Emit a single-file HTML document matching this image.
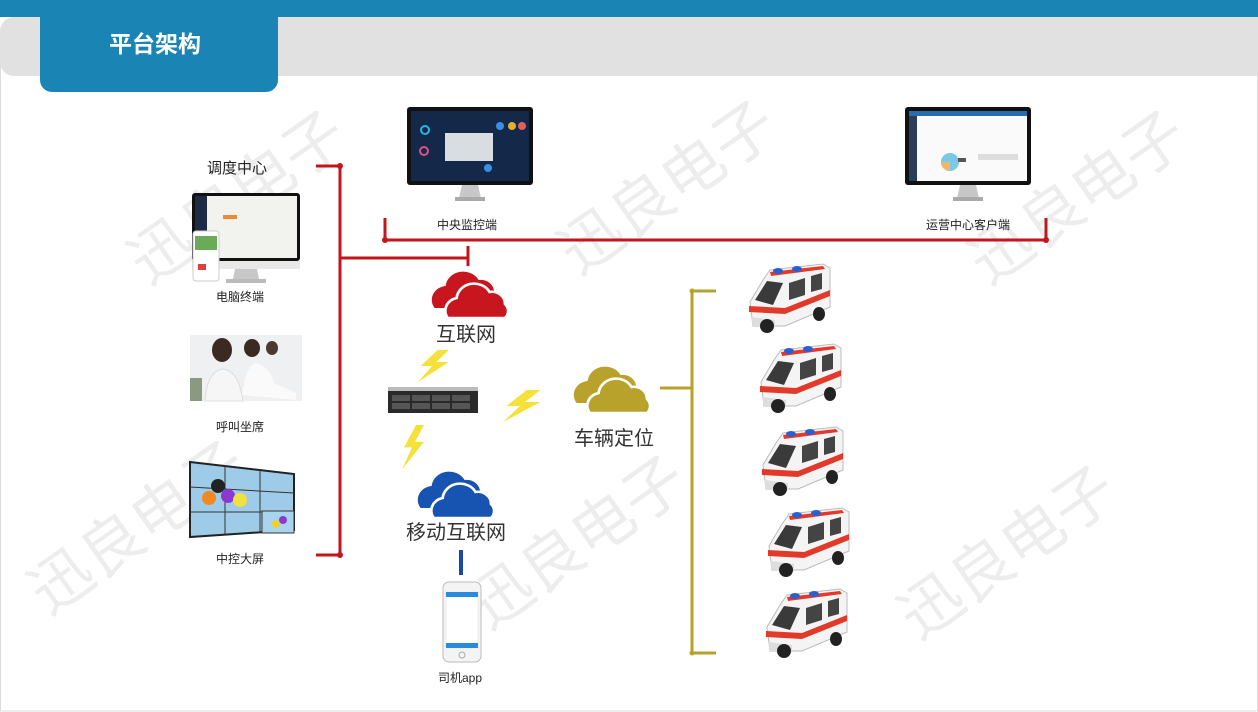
<!DOCTYPE html>
<html><head><meta charset="utf-8"><style>
html,body{margin:0;padding:0;background:#fff;}
svg{display:block;}
text{font-family:"Liberation Sans","Noto Sans CJK SC",sans-serif;}
</style></head><body>
<svg width="1258" height="712" viewBox="0 0 1258 712" xmlns="http://www.w3.org/2000/svg">
<defs>
<g id="cloud">
<path d="M6,40 a14,14 0 0 1 10,-22 a16,16 0 0 1 30,-6 a12,12 0 0 1 14,12 a10,10 0 0 1 -2,16 z"/>
<path d="M18,50 a13,13 0 0 1 8,-20 a16,16 0 0 1 30,-6 a12,12 0 0 1 14,12 a10,10 0 0 1 0,14 z" stroke="#fff" stroke-width="2.5"/>
</g>
<g id="amb">
<path d="M5,40 L18,18 L25,8 L78,2 L85,6 L85,45 L40,64 L8,64 Z" fill="#f4f4f4" stroke="#bbb" stroke-width="1"/>
<path d="M4,44 L40,46 L85,28 L85,34 L40,52 L4,50 Z" fill="#e23a2a"/>
<path d="M25,10 L78,4 L80,7 L26,14 Z" fill="#e23a2a"/>
<path d="M10,38 L22,19 L38,21 L28,43 Z" fill="#3a3a3a"/>
<path d="M44,21 L60,16 L60,33 L44,38 Z" fill="#444"/>
<path d="M66,14 L77,11 L77,27 L66,30 Z" fill="#444"/>
<ellipse cx="33" cy="9" rx="5" ry="3" fill="#2b5fd0"/>
<ellipse cx="52" cy="7" rx="5" ry="3" fill="#2b5fd0"/>
<path d="M6,55 L30,58 L30,64 L8,64 Z" fill="#ddd"/>
<ellipse cx="22" cy="64" rx="7" ry="7" fill="#222"/>
<ellipse cx="74" cy="52" rx="6" ry="7" fill="#222"/>
</g>
<g id="bolt"><path d="M14,0 L2,16 L10,16 L0,32 L22,12 L13,12 L22,0 Z" fill="#f4e23a"/></g>
</defs>

<rect x="0.5" y="60" width="1257" height="651" fill="none" stroke="#ddd" stroke-width="1"/>
<!-- header -->
<rect x="0" y="0" width="1258" height="17" fill="#1a84b4"/>
<path d="M14,17 H1258 V76 H14 a14,14 0 0 1 -14,-14 V31 a14,14 0 0 1 14,-14 z" fill="#e1e1e1"/>
<path d="M40,17 H278 V80 a12,12 0 0 1 -12,12 H52 a12,12 0 0 1 -12,-12 z" fill="#1a84b4"/>
<text x="155" y="52" font-size="23" font-weight="bold" fill="#fff" text-anchor="middle">平台架构</text>

<!-- watermarks -->
<g font-size="62" fill="#000" fill-opacity="0.07" text-anchor="middle">
<text transform="translate(250,215) rotate(-35)">迅良电子</text>
<text transform="translate(680,205) rotate(-35)">迅良电子</text>
<text transform="translate(1090,215) rotate(-35)">迅良电子</text>
<text transform="translate(150,545) rotate(-35)">迅良电子</text>
<text transform="translate(590,560) rotate(-35)">迅良电子</text>
<text transform="translate(1020,570) rotate(-35)">迅良电子</text>
</g>

<!-- red lines -->
<g stroke="#c0161c" stroke-width="3" fill="none">
<path d="M316,166 H340 V555 H316"/>
<path d="M340,258 H468 M468,246 V266"/>
<path d="M385,218 V240 H1046 V218"/>
</g>
<circle cx="340" cy="166" r="3" fill="#c0161c"/>
<circle cx="340" cy="555" r="3" fill="#c0161c"/>
<circle cx="385" cy="240" r="3" fill="#c0161c"/>
<circle cx="1046" cy="240" r="3" fill="#c0161c"/>

<!-- monitors -->
<g>
<rect x="407" y="107" width="126" height="78" rx="3" fill="#111"/>
<rect x="411" y="111" width="118" height="70" fill="#14284a"/>
<rect x="445" y="133" width="48" height="28" fill="#d8dde2"/>
<circle cx="425" cy="130" r="4" fill="none" stroke="#2bb4e0" stroke-width="2"/>
<circle cx="500" cy="126" r="4" fill="#3a90e0"/><circle cx="512" cy="126" r="4" fill="#e0b030"/><circle cx="522" cy="126" r="4" fill="#e06060"/>
<circle cx="424" cy="151" r="4" fill="none" stroke="#e05080" stroke-width="2"/>
<circle cx="488" cy="168" r="4" fill="#3a90e0"/>
<path d="M462,185 h16 l3,13 h-22 z" fill="#c8c8c8"/><rect x="455" y="197" width="30" height="4" fill="#aaa"/>
</g>
<g>
<rect x="905" y="107" width="126" height="78" rx="3" fill="#111"/>
<rect x="909" y="111" width="118" height="70" fill="#fafafa"/>
<rect x="909" y="111" width="118" height="5" fill="#2a6cb0"/>
<rect x="909" y="116" width="8" height="65" fill="#2c3e55"/>
<circle cx="950" cy="162" r="9" fill="#7cc8e8"/><path d="M950,162 L950,171 A9,9 0 0 1 941,162 Z" fill="#f2b66a"/>
<rect x="958" y="158" width="8" height="4" fill="#555"/>
<rect x="978" y="154" width="40" height="6" fill="#ddd"/>
<path d="M960,185 h16 l3,13 h-22 z" fill="#c8c8c8"/><rect x="953" y="197" width="30" height="4" fill="#aaa"/>
</g>
<g>
<rect x="192" y="193" width="108" height="68" rx="3" fill="#111"/>
<rect x="195" y="196" width="102" height="62" fill="#f2f2ee"/>
<rect x="195" y="196" width="12" height="62" fill="#1d2b44"/>
<rect x="223" y="215" width="14" height="4" fill="#f08a30"/>
<rect x="192" y="261" width="108" height="8" fill="#e8e8e8"/>
<path d="M235,269 h22 l2,10 h-26 z" fill="#c8c8c8"/><rect x="226" y="279" width="40" height="4" fill="#bbb"/>
<rect x="193" y="231" width="26" height="50" rx="3" fill="#fff" stroke="#ccc"/>
<rect x="195" y="236" width="22" height="14" fill="#6aaa58"/>
<rect x="198" y="264" width="8" height="6" fill="#e04040"/>
</g>

<!-- call center photo -->
<g>
<rect x="190" y="335" width="112" height="66" fill="#eef0f2"/>
<ellipse cx="222" cy="350" rx="10" ry="12" fill="#3a2a22"/>
<path d="M205,401 q2,-30 18,-32 q16,2 20,32 z" fill="#f6f6f6" stroke="#ddd"/>
<ellipse cx="252" cy="348" rx="8" ry="9" fill="#3a2a22"/>
<ellipse cx="272" cy="348" rx="6" ry="7" fill="#4a3a32"/>
<path d="M242,395 q4,-30 14,-32 q14,4 18,20 l22,10 v7 z" fill="#fafafa"/>
<rect x="190" y="378" width="12" height="23" fill="#8a9a80"/>
</g>

<!-- video wall -->
<g>
<path d="M190,462 L294,474 L294,530 L190,537 Z" fill="#9dcbe8"/>
<path d="M190,462 L294,474 L294,530 L190,537 Z" fill="none" stroke="#222" stroke-width="2"/>
<path d="M225,466 L225,535 M260,470 L260,532 M190,487 L294,493 M190,512 L294,512" stroke="#333" stroke-width="1"/>
<circle cx="218" cy="486" r="7" fill="#222"/><circle cx="209" cy="498" r="7" fill="#f08a20"/><circle cx="228" cy="496" r="7" fill="#8a3ad0"/><circle cx="240" cy="500" r="7" fill="#f0e040"/>
<rect x="262" y="511" width="32" height="22" fill="#a8d4ee" stroke="#333"/>
<circle cx="283" cy="520" r="4" fill="#8a3ad0"/><circle cx="276" cy="524" r="4" fill="#f0d030"/>
</g>

<g font-size="12" fill="#222" text-anchor="middle">
<text x="467" y="229">中央监控端</text>
<text x="968" y="229">运营中心客户端</text>
<text x="240" y="301">电脑终端</text>
<text x="240" y="431">呼叫坐席</text>
<text x="240" y="563">中控大屏</text>
<text x="460" y="682">司机app</text>
</g>
<text x="237" y="173" font-size="15" fill="#222" text-anchor="middle">调度中心</text>

<!-- clouds -->
<use href="#cloud" transform="translate(428,268) scale(1.1,1.0)" fill="#c8161e"/>
<use href="#cloud" transform="translate(570,363) scale(1.1,1.0)" fill="#b9a22c"/>
<use href="#cloud" transform="translate(414,468) scale(1.1,1.0)" fill="#1753b0"/>
<g font-size="20" fill="#333" text-anchor="middle">
<text x="466" y="341">互联网</text>
<text x="614" y="445">车辆定位</text>
<text x="456" y="539">移动互联网</text>
</g>

<!-- server -->
<g>
<rect x="388" y="387" width="90" height="26" fill="#2a2a2a"/>
<rect x="388" y="387" width="90" height="4" fill="#bbb"/>
<g fill="#555"><rect x="392" y="395" width="18" height="6"/><rect x="412" y="395" width="18" height="6"/><rect x="432" y="395" width="18" height="6"/><rect x="452" y="395" width="18" height="6"/>
<rect x="392" y="403" width="18" height="6"/><rect x="412" y="403" width="18" height="6"/><rect x="432" y="403" width="18" height="6"/><rect x="452" y="403" width="18" height="6"/></g>
</g>
<use href="#bolt" transform="translate(418,350) scale(1.4,1.0)"/>
<use href="#bolt" transform="translate(503,390) scale(1.7,1.0)"/>
<use href="#bolt" transform="translate(402,425) scale(1.0,1.4)"/>

<!-- blue line & phone -->
<rect x="459" y="550" width="4" height="25" fill="#1a4aa0"/>
<g>
<rect x="443" y="582" width="38" height="80" rx="6" fill="#f4f4f4" stroke="#bbb"/>
<rect x="446" y="592" width="32" height="56" fill="#fff" stroke="#ddd" stroke-width="0.5"/>
<rect x="446" y="592" width="32" height="5" fill="#2a8ae0"/>
<rect x="446" y="643" width="32" height="5" fill="#2a8ae0"/>
<circle cx="462" cy="655" r="3" fill="none" stroke="#aaa"/>
</g>

<!-- gold bracket -->
<g stroke="#b9a22c" stroke-width="3" fill="none">
<path d="M660,388 H692 M716,291 H692 V653 H716"/>
</g>
<circle cx="692" cy="291" r="2.5" fill="#b9a22c"/><circle cx="692" cy="653" r="2.5" fill="#b9a22c"/>

<!-- ambulances -->
<use href="#amb" transform="translate(745,262)"/>
<use href="#amb" transform="translate(756,342)"/>
<use href="#amb" transform="translate(758,425)"/>
<use href="#amb" transform="translate(764,506)"/>
<use href="#amb" transform="translate(762,587)"/>
</svg>
</body></html>
